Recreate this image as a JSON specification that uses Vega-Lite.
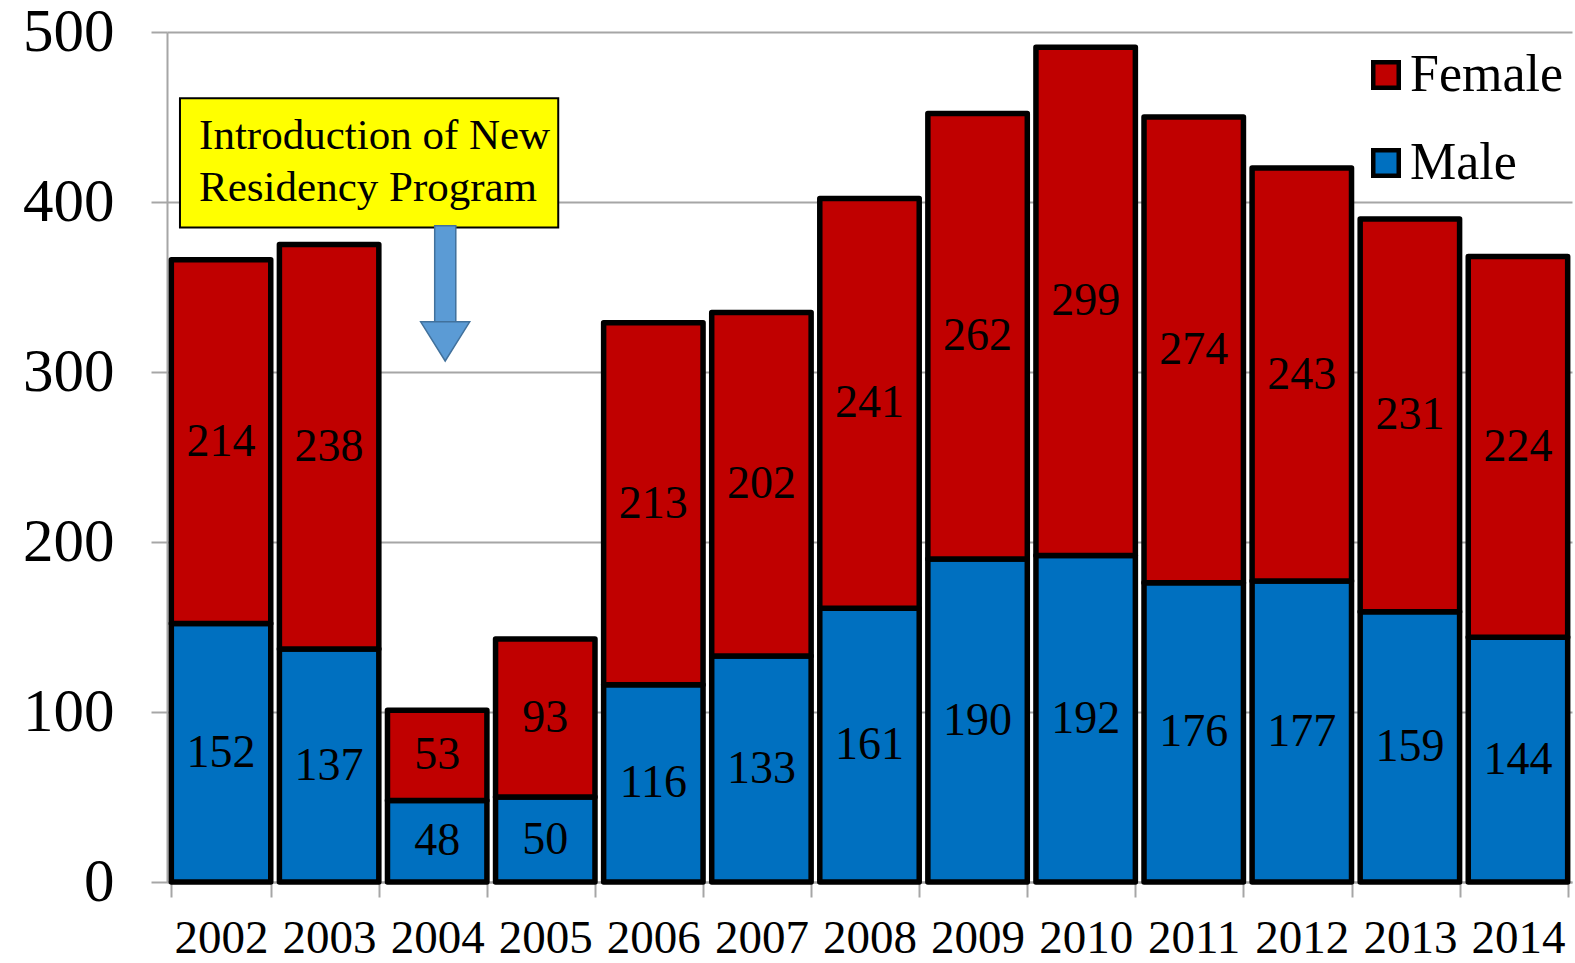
{
  "$schema": "https://vega.github.io/schema/vega-lite/v6.json",
  "width": 1405,
  "height": 850,
  "autosize": {"type": "none"},
  "padding": {"left": 167, "top": 32, "right": 3, "bottom": 81},
  "background": "white",
  "config": {
    "view": {"stroke": null},
    "font": "Liberation Serif",
    "axis": {"labelFont": "Liberation Serif", "labelColor": "black", "title": null},
    "legend": {"labelFont": "Liberation Serif"}
  },
  "resolve": {"scale": {"x": "independent"}},
  "layer": [
    {
      "data": {
        "values": [
          {"year": "2002", "sex": "Male", "count": 152}, {"year": "2002", "sex": "Female", "count": 214},
          {"year": "2003", "sex": "Male", "count": 137}, {"year": "2003", "sex": "Female", "count": 238},
          {"year": "2004", "sex": "Male", "count": 48}, {"year": "2004", "sex": "Female", "count": 53},
          {"year": "2005", "sex": "Male", "count": 50}, {"year": "2005", "sex": "Female", "count": 93},
          {"year": "2006", "sex": "Male", "count": 116}, {"year": "2006", "sex": "Female", "count": 213},
          {"year": "2007", "sex": "Male", "count": 133}, {"year": "2007", "sex": "Female", "count": 202},
          {"year": "2008", "sex": "Male", "count": 161}, {"year": "2008", "sex": "Female", "count": 241},
          {"year": "2009", "sex": "Male", "count": 190}, {"year": "2009", "sex": "Female", "count": 262},
          {"year": "2010", "sex": "Male", "count": 192}, {"year": "2010", "sex": "Female", "count": 299},
          {"year": "2011", "sex": "Male", "count": 176}, {"year": "2011", "sex": "Female", "count": 274},
          {"year": "2012", "sex": "Male", "count": 177}, {"year": "2012", "sex": "Female", "count": 243},
          {"year": "2013", "sex": "Male", "count": 159}, {"year": "2013", "sex": "Female", "count": 231},
          {"year": "2014", "sex": "Male", "count": 144}, {"year": "2014", "sex": "Female", "count": 224}
        ]
      },
      "encoding": {
        "x": {
          "field": "year", "type": "nominal",
          "scale": {"paddingInner": 0.08, "paddingOuter": 0.04},
          "axis": {
            "labelAngle": 0, "labelFontSize": 47, "labelPadding": 18,
            "domainColor": "#A6A6A6", "domainWidth": 2,
            "tickColor": "#A6A6A6", "tickWidth": 2, "tickSize": 15, "tickBand": "extent",
            "grid": false
          }
        }
      },
      "layer": [
        {
          "mark": {"type": "bar", "stroke": "black", "strokeWidth": 5.5, "strokeJoin": "round"},
          "encoding": {
            "y": {
              "field": "count", "type": "quantitative", "stack": "zero",
              "scale": {"domain": [0, 500], "nice": false},
              "axis": {
                "values": [0, 100, 200, 300, 400, 500],
                "labelFontSize": 61, "labelPadding": 37,
                "domainColor": "#A6A6A6", "domainWidth": 2,
                "tickColor": "#A6A6A6", "tickWidth": 2, "tickSize": 16,
                "grid": true, "gridColor": "#A6A6A6", "gridWidth": 2
              }
            },
            "color": {
              "field": "sex", "type": "nominal",
              "scale": {"domain": ["Female", "Male"], "range": ["#C00000", "#0070C0"]},
              "legend": {
                "title": null, "orient": "none", "legendX": 1193, "legendY": 17,
                "labelFontSize": 52, "labelOffset": -2, "rowPadding": 36, "padding": 0,
                "symbolType": "square", "symbolSize": 650, "symbolStrokeColor": "black",
                "symbolStrokeWidth": 4.5, "symbolOpacity": 1
              }
            },
            "order": {"field": "sex", "sort": "descending"}
          }
        },
        {
          "transform": [
            {"stack": "count", "groupby": ["year"], "sort": [{"field": "sex", "order": "descending"}], "as": ["y0", "y1"]},
            {"calculate": "(datum.y0 + datum.y1) / 2", "as": "mid"}
          ],
          "mark": {"type": "text", "fontSize": 46, "color": "black", "baseline": "middle", "align": "center"},
          "encoding": {
            "y": {"field": "mid", "type": "quantitative"},
            "text": {"field": "count", "type": "quantitative"}
          }
        }
      ]
    },
    {
      "data": {"values": [{"note": "Introduction of New Residency Program"}]},
      "layer": [
        {
          "mark": {"type": "rect", "fill": "#FFFF00", "stroke": "black", "strokeWidth": 2},
          "encoding": {
            "x": {"datum": 0.12, "type": "quantitative", "scale": {"domain": [0, 13], "nice": false, "zero": false}, "axis": null},
            "x2": {"datum": 3.62},
            "y": {"datum": 461, "type": "quantitative"},
            "y2": {"datum": 385}
          }
        },
        {
          "mark": {"type": "text", "fontSize": 43, "color": "black", "align": "left", "baseline": "middle", "lineHeight": 52},
          "encoding": {
            "x": {"datum": 0.297, "type": "quantitative"},
            "y": {"datum": 439, "type": "quantitative"},
            "text": {"value": ["Introduction of New", "Residency Program"]}
          }
        },
        {
          "mark": {"type": "rect", "fill": "#5B9BD5", "stroke": "#41719C", "strokeWidth": 1.5},
          "encoding": {
            "x": {"datum": 2.477, "type": "quantitative"},
            "x2": {"datum": 2.672},
            "y": {"datum": 386, "type": "quantitative"},
            "y2": {"datum": 329}
          }
        },
        {
          "mark": {"type": "point", "filled": true, "fill": "#5B9BD5", "stroke": "#41719C", "strokeWidth": 1.5, "opacity": 1,
                   "shape": "M-1,-0.8L1,-0.8L0,0.8Z", "size": 2401},
          "encoding": {
            "x": {"datum": 2.574, "type": "quantitative"},
            "y": {"datum": 318, "type": "quantitative"}
          }
        }
      ]
    }
  ]
}
